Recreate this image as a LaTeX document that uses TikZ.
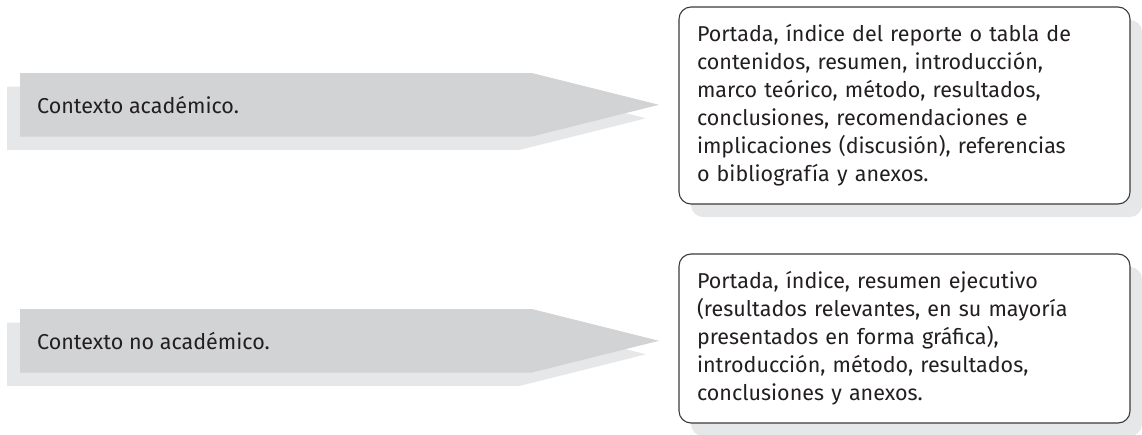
\documentclass[tikz,border=0pt]{standalone}
\usepackage{fontspec}
\setmainfont{Fira Sans}
\usepackage{tikz}
\usetikzlibrary{shadows, positioning}

\definecolor{grisflecha}{HTML}{D1D3D4}
\definecolor{grissombra}{HTML}{E6E7E8}
\definecolor{grisborde}{HTML}{3A3A3A}
\definecolor{gristexto}{HTML}{231F20}

\begin{document}
\begin{tikzpicture}[x=1pt, y=-1pt,
    flecha/.style={fill=grisflecha},
    sombra/.style={fill=grissombra},
    etiqueta/.style={anchor=west, inner sep=0pt, text=gristexto, font=\fontsize{21.5}{28}\selectfont},
    caja/.style={draw=grisborde, line width=1.1pt, rounded corners=12pt, fill=white,
        minimum width=451pt, text width=415pt, inner xsep=18pt, align=left,
        text=gristexto, font=\fontsize{21.5}{28}\selectfont,
        copy shadow={shadow xshift=12pt, shadow yshift=-13pt, draw=none, fill=grissombra}}
]
\useasboundingbox (0,0) rectangle (1142,434);

\fill[sombra] (7,86.5) -- (519,86.5) -- (646,118.25) -- (519,150) -- (7,150) -- cycle;
\fill[flecha] (20,73) -- (532,73) -- (659,104.75) -- (532,136.5) -- (20,136.5) -- cycle;
\node[etiqueta] (academico) at (37,104.75) {Contexto académico.};

\fill[sombra] (7,322.5) -- (519,322.5) -- (646,354.25) -- (519,386) -- (7,386) -- cycle;
\fill[flecha] (20,309) -- (532,309) -- (659,340.75) -- (532,372.5) -- (20,372.5) -- cycle;
\node[etiqueta] (noacademico) at (37,340.75) {Contexto no académico.};

\node[caja, minimum height=197pt] (partesacad) at (904.5,105.5) {Portada, índice del reporte o tabla de\\
contenidos, resumen, introducción,\\
marco teórico, método, resultados,\\
conclusiones, recomendaciones e\\
implicaciones (discusión), referencias\\
o bibliografía y anexos.};

\node[caja, minimum height=169pt] (partesnoacad) at (904.5,338.5) {Portada, índice, resumen ejecutivo\\
(resultados relevantes, en su mayoría\\
presentados en forma gráfica),\\
introducción, método, resultados,\\
conclusiones y anexos.};
\end{tikzpicture}
\end{document}
